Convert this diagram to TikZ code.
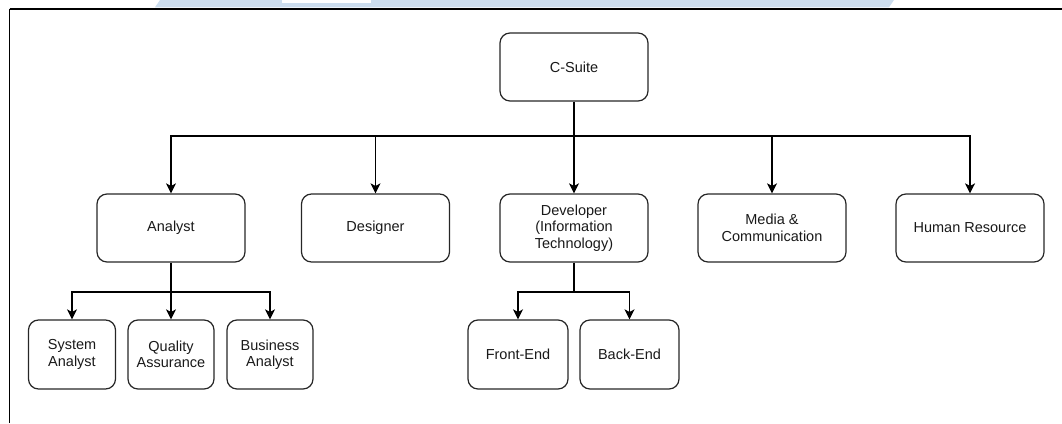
\documentclass[tikz,border=0pt]{standalone}
\usepackage{fontspec}
\setmainfont{Liberation Sans}
\usetikzlibrary{arrows.meta}
\definecolor{boxline}{HTML}{262626}
\definecolor{wmblue}{HTML}{CCDDEE}
\begin{document}
\begin{tikzpicture}[x=1pt, y=-1pt,
		unit/.style={draw=boxline, line width=1.2pt, rounded corners=10pt, inner sep=0pt,
			minimum width=148pt, minimum height=68pt, align=center,
			font=\fontsize{14.5}{16.5}\selectfont, text=black!90},
		subunit/.style={unit, minimum width=87pt, minimum height=69pt},
		link/.style={draw=black, line width=1.2pt},
		arrowlink/.style={link, -{Stealth[length=10pt, width=10pt, inset=2.5pt]}}]
	\useasboundingbox (0,0) rectangle (1062,423);
	% page edge
	\fill [wmblue] (160,0) -- (894,0) -- (889,7.3) -- (155,7.3) -- cycle;
	\fill [white] (282,0) rectangle (371,3);
	\draw [line width=2pt] (9.5,8.7) -- (1062,8.7);
	\draw [line width=1.6pt] (9.5,8.7) -- (9.5,423);
	% top
	\node [unit] (csuite) at (574,67) {C-Suite};
	% second level
	\node [unit] (analyst) at (171,228) {Analyst};
	\node [unit] (designer) at (375.5,228) {Designer};
	\node [unit] (developer) at (574,228) {Developer\\(Information\\Technology)};
	\node [unit] (media) at (772,228) {Media \&\\Communication};
	\node [unit] (hr) at (970,228) {Human Resource};
	% third level
	\node [subunit] (sysan) at (72,354.5) {System\\Analyst};
	\node [subunit, minimum width=86pt] (qa) at (171,354.5) {Quality\\Assurance};
	\node [subunit, minimum width=86pt] (busan) at (270,354.5) {Business\\Analyst};
	\node [subunit, minimum width=100pt] (front) at (518,354.5) {Front-End};
	\node [subunit, minimum width=99pt] (back) at (629.5,354.5) {Back-End};
	% connectors
	\coordinate (topbus) at (574,136);
	\coordinate (abus) at (171,292);
	\coordinate (dbus) at (574,292);
	\draw [link] (csuite) -- (topbus);
	\foreach \n in {analyst, designer, developer, media, hr}
		\draw [arrowlink] (topbus) -| (\n.north);
	\draw [link] (analyst) -- (abus);
	\foreach \n in {sysan, qa, busan}
		\draw [arrowlink] (abus) -| (\n.north);
	\draw [link] (developer) -- (dbus);
	\foreach \n in {front, back}
		\draw [arrowlink] (dbus) -| (\n.north);
\end{tikzpicture}
\end{document}
